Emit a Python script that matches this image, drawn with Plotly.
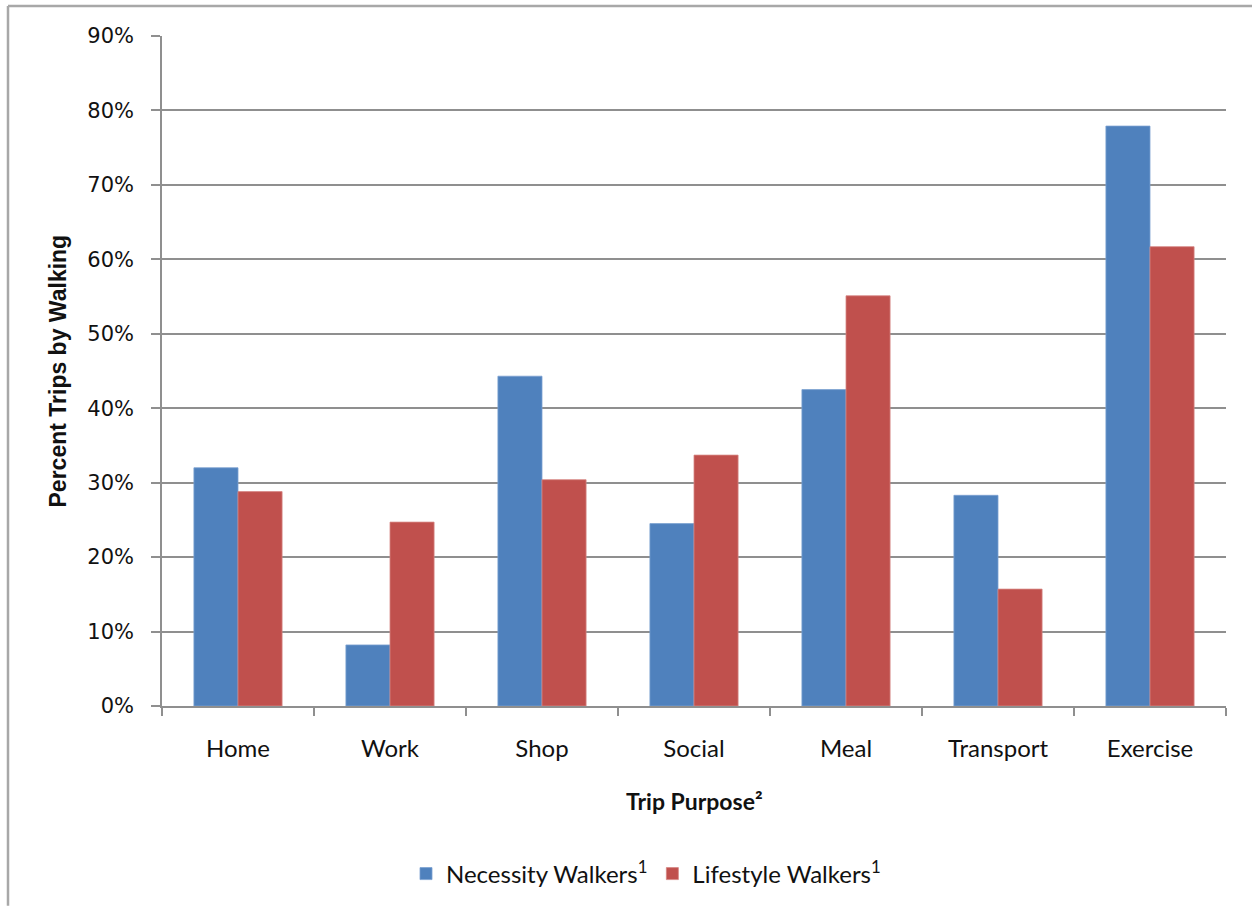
import plotly.graph_objects as go

categories = ["Home", "Work", "Shop", "Social", "Meal", "Transport", "Exercise"]
necessity = [0.320, 0.082, 0.443, 0.245, 0.425, 0.283, 0.779]
lifestyle = [0.288, 0.247, 0.304, 0.337, 0.551, 0.157, 0.617]
series_names = ["Necessity Walkers<sup>1</sup>", "Lifestyle Walkers<sup>1</sup>"]
y_title = "Percent Trips by Walking"
x_title = "Trip Purpose²"

W, H = 1252, 907
L, R, T, B = 162, 26, 36, 200
PW, PH = W - L - R, H - T - B

def px(x):
    return (x - L) / PW

def py(y):
    return (H - B - y) / PH

GRID = "#8f8f8f"

fig = go.Figure()
fig.add_trace(go.Bar(x=categories, y=necessity, name=series_names[0],
                     marker=dict(color="#4F81BD", line=dict(color="#7aa0d0", width=0.8))))
fig.add_trace(go.Bar(x=categories, y=lifestyle, name=series_names[1],
                     marker=dict(color="#C0504D", line=dict(color="#d58583", width=0.8))))

fig.update_layout(
    width=W, height=H,
    margin=dict(l=L, r=R, t=T, b=B),
    paper_bgcolor="white", plot_bgcolor="white",
    barmode="group", bargap=0.42, bargroupgap=0,
    showlegend=True,
    legend=dict(orientation="h", x=px(646), xanchor="center", y=py(874), yanchor="middle",
                font=dict(family="Lato, Open Sans, sans-serif", size=24, color="#111"),
                itemwidth=30, traceorder="normal"),
    xaxis=dict(showline=True, linecolor=GRID, linewidth=1.5,
               ticks="outside", tickson="boundaries", ticklen=8, tickcolor=GRID, tickwidth=1.5,
               tickfont=dict(family="Lato, Open Sans, sans-serif", size=24, color="#111"),
               ticklabelstandoff=20, showgrid=False),
    yaxis=dict(range=[0, 0.9], dtick=0.1, tickformat=".0%",
               showline=True, linecolor=GRID, linewidth=1.5,
               ticks="outside", ticklen=9, tickcolor=GRID, tickwidth=1.5,
               showgrid=True, gridcolor=GRID, gridwidth=1.5, zeroline=False,
               tickfont=dict(family="DejaVu Sans, Verdana, sans-serif", size=21, color="#111"),
               ticklabelstandoff=13),
)

fig.add_annotation(text="<b>" + y_title + "</b>", xref="paper", yref="paper",
                   x=px(58), y=py(372), textangle=-90, showarrow=False,
                   font=dict(family="Liberation Sans Narrow, Arial Narrow, sans-serif", size=23, color="#111"),
                   xanchor="center", yanchor="middle")
fig.add_annotation(text="<b>" + x_title + "</b>", xref="paper", yref="paper",
                   x=px(694), y=py(802), showarrow=False,
                   font=dict(family="Lato, Open Sans, sans-serif", size=23, color="#111"),
                   xanchor="center", yanchor="middle")

# page frame lines
fig.add_shape(type="line", xref="paper", yref="paper", x0=px(8), x1=px(W), y0=py(6), y1=py(6),
              line=dict(color="#a8a8a8", width=2.5))
fig.add_shape(type="line", xref="paper", yref="paper", x0=px(8), x1=px(8), y0=py(6), y1=py(H),
              line=dict(color="#a8a8a8", width=2.5))

fig.write_html("out.html")
